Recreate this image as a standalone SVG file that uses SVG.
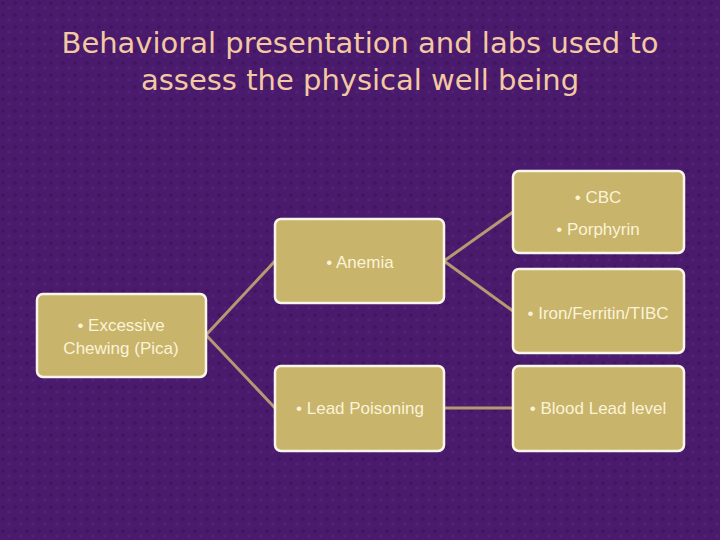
<svg xmlns="http://www.w3.org/2000/svg" width="720" height="540" viewBox="0 0 720 540">
<style>
.box{fill:#c8b46a;stroke:#fbf6ec;stroke-width:2.5}
.t{font-family:"Liberation Sans",Arial,sans-serif;font-size:17px;fill:#fbf3d8;text-anchor:middle}
.h{font-family:"DejaVu Sans",sans-serif;font-size:29px;fill:#f2c9a2;text-anchor:middle}
.c{stroke:#b39a72;stroke-width:3;fill:none}
</style>
<defs>
<pattern id="tex" width="12" height="12" patternUnits="userSpaceOnUse">
<rect width="12" height="12" fill="#4a1a6c"/>
<circle cx="3" cy="3" r="2" fill="#3c1258" opacity="0.6"/>
<circle cx="9" cy="8" r="1.6" fill="#5a2682" opacity="0.6"/>
</pattern>
</defs>
<rect width="720" height="540" fill="url(#tex)"/>
<text class="h" x="360" y="53">Behavioral presentation and labs used to</text>
<text class="h" x="360" y="90">assess the physical well being</text>
<g id="connectors">
<line class="c" x1="206" y1="335" x2="275" y2="261"/>
<line class="c" x1="206" y1="335" x2="275" y2="408"/>
<line class="c" x1="444" y1="261" x2="513" y2="212"/>
<line class="c" x1="444" y1="261" x2="513" y2="311"/>
<line class="c" x1="444" y1="408" x2="513" y2="408"/>
</g>
<g id="pica"><rect class="box" x="37" y="294" width="169" height="83" rx="6"/><text class="t" x="121" y="331">• Excessive</text><text class="t" x="121" y="354">Chewing (Pica)</text></g>
<g id="anemia"><rect class="box" x="275" y="219" width="169" height="84" rx="6"/><text class="t" x="360" y="268">• Anemia</text></g>
<g id="lead"><rect class="box" x="275" y="366" width="169" height="85" rx="6"/><text class="t" x="360" y="414">• Lead Poisoning</text></g>
<g id="cbc"><rect class="box" x="513" y="171" width="171" height="82" rx="6"/><text class="t" x="598" y="203">• CBC</text><text class="t" x="598" y="235">• Porphyrin</text></g>
<g id="iron"><rect class="box" x="513" y="269" width="171" height="84" rx="6"/><text class="t" x="598" y="319">• Iron/Ferritin/TIBC</text></g>
<g id="blood"><rect class="box" x="513" y="366" width="171" height="85" rx="6"/><text class="t" x="598" y="414">• Blood Lead level</text></g>
</svg>
